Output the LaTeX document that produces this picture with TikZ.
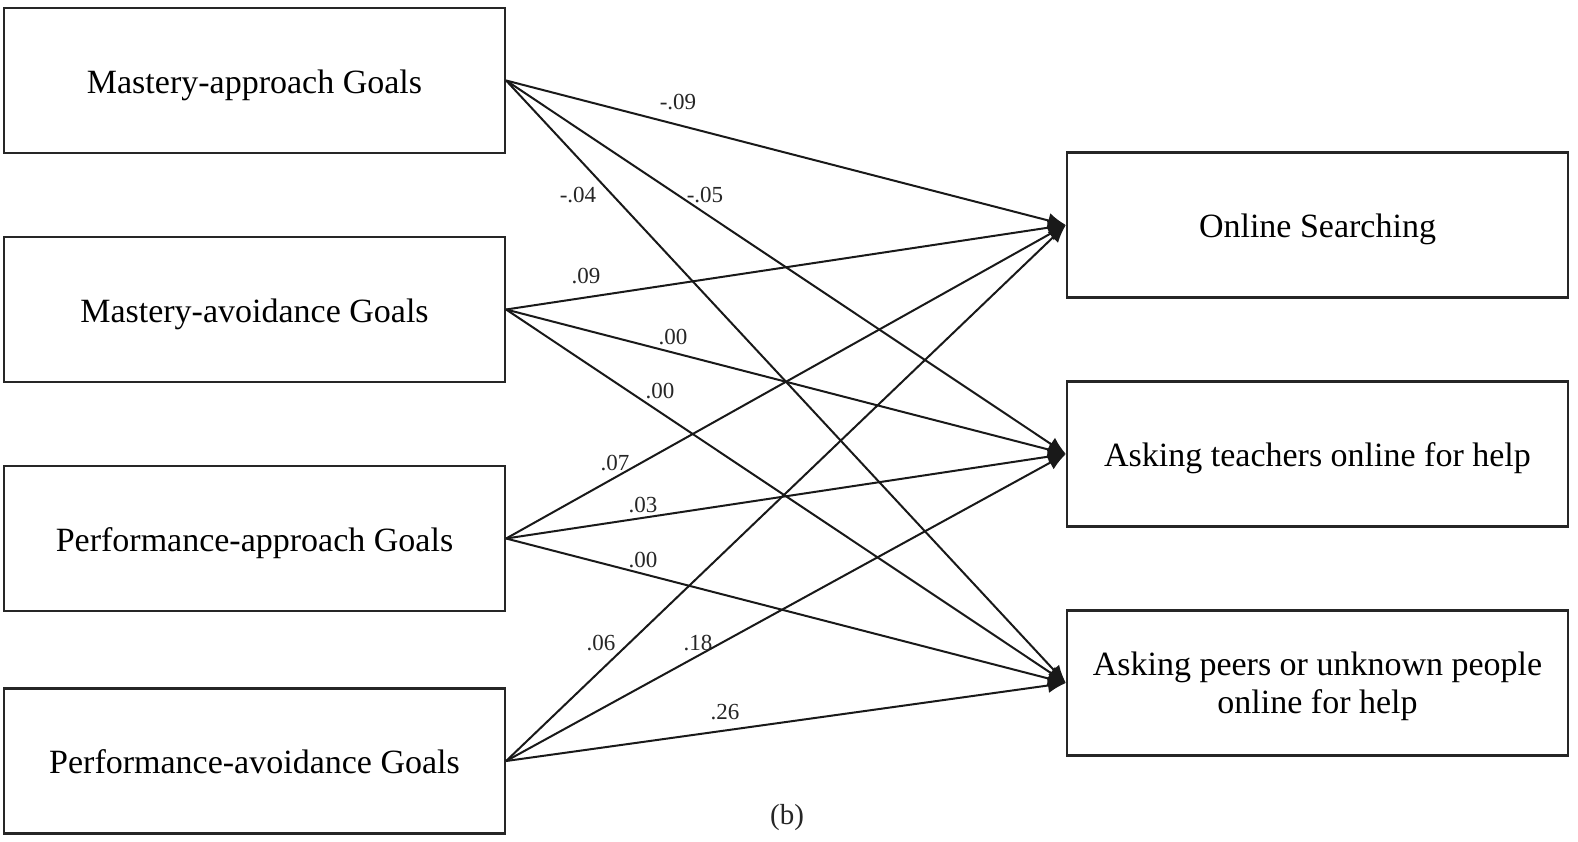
\documentclass[tikz,border=0pt]{standalone}
\usepackage{fontspec}
\setmainfont{Liberation Serif}
\usetikzlibrary{arrows.meta}
\begin{document}
\begin{tikzpicture}[x=1pt,y=-1pt,
  box/.style={draw=black!85, line width=2.2pt, rectangle, minimum width=501pt, minimum height=145pt, inner sep=0pt, align=center, text height=25pt, text depth=0pt, font=\fontsize{34}{38}\selectfont},
  conn/.style={draw=black!90, line width=2pt, -{Latex[length=18pt,width=15pt]}},
  lbl/.style={font=\fontsize{23}{26}\selectfont, inner sep=0pt, text=black!85}]
\useasboundingbox (0,0) rectangle (1578,841);
\fill[white] (0,0) rectangle (1578,841);
% left boxes
\node[box] (m1) at (254.5,80.5) {Mastery-approach Goals};
\node[box] (m2) at (254.5,309.5) {Mastery-avoidance Goals};
\node[box] (p1) at (254.5,538.5) {Performance-approach Goals};
\node[box] (p2) at (254.5,761) {Performance-avoidance Goals};
% right boxes
\node[box] (os) at (1317.5,225) {Online Searching};
\node[box] (at) at (1317.5,454) {Asking teachers online for help};
\node[box, text height=60pt] (ap) at (1317.5,683) {Asking peers or unknown people\\online for help};
% connectors
\draw[conn] (m1.east) -- (os.west);
\draw[conn] (m1.east) -- (at.west);
\draw[conn] (m1.east) -- (ap.west);
\draw[conn] (m2.east) -- (os.west);
\draw[conn] (m2.east) -- (at.west);
\draw[conn] (m2.east) -- (ap.west);
\draw[conn] (p1.east) -- (os.west);
\draw[conn] (p1.east) -- (at.west);
\draw[conn] (p1.east) -- (ap.west);
\draw[conn] (p2.east) -- (os.west);
\draw[conn] (p2.east) -- (at.west);
\draw[conn] (p2.east) -- (ap.west);
% labels
\node[lbl] (l1) at (678,102) {-.09};
\node[lbl] (l2) at (578,195) {-.04};
\node[lbl] (l3) at (705,195) {-.05};
\node[lbl] (l4) at (586,276) {.09};
\node[lbl] (l5) at (673,337) {.00};
\node[lbl] (l6) at (660,391) {.00};
\node[lbl] (l7) at (615,463) {.07};
\node[lbl] (l8) at (643,505) {.03};
\node[lbl] (l9) at (643,560) {.00};
\node[lbl] (l10) at (601,643) {.06};
\node[lbl] (l11) at (698,643) {.18};
\node[lbl] (l12) at (725,712) {.26};
% caption
\node[font=\fontsize{29}{30}\selectfont, inner sep=0pt, text=black!85] (cap) at (787,818) {(b)};
\end{tikzpicture}
\end{document}
